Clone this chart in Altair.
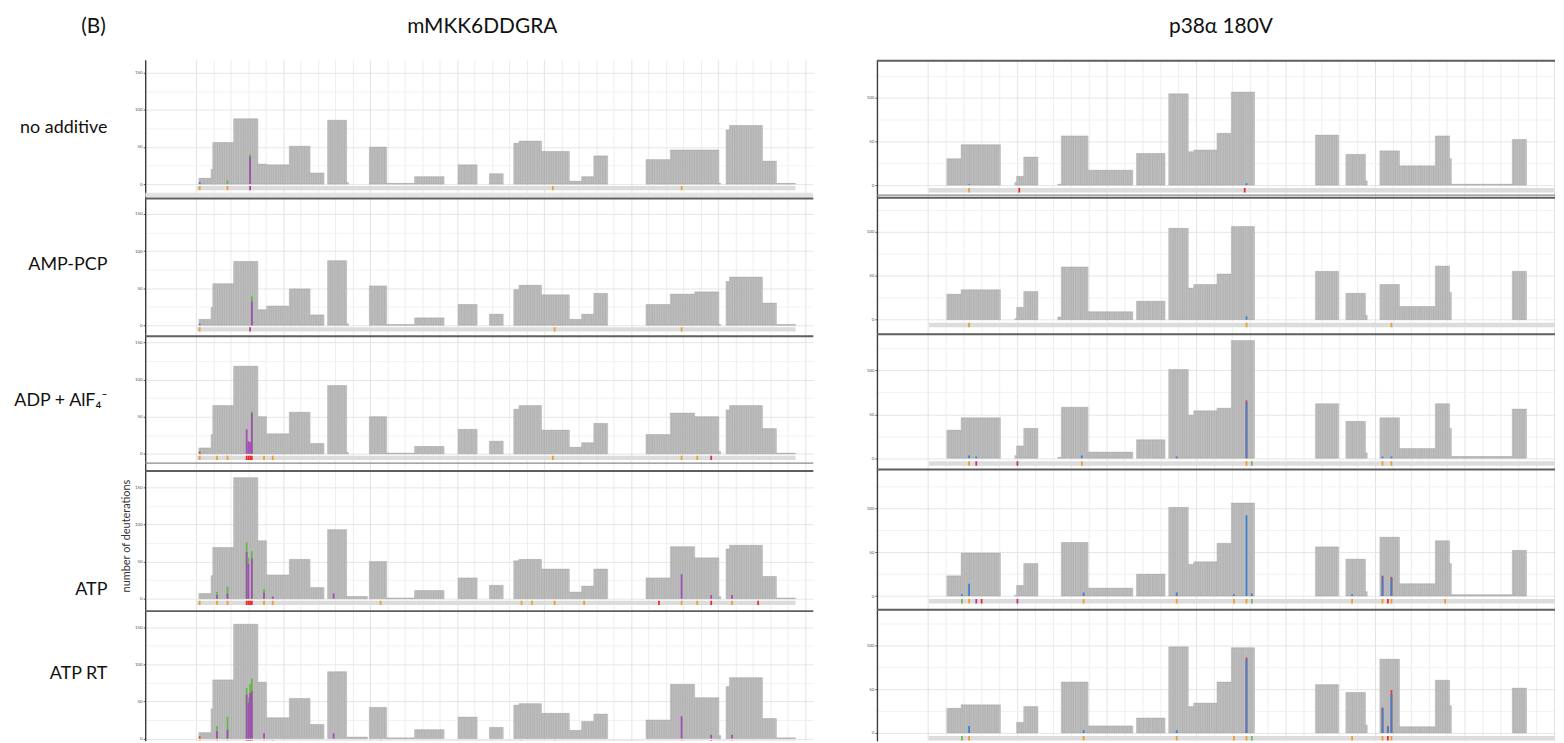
import altair as alt
import pandas as pd

# ---------------- text ----------------
PANEL_TAG = "(B)"
COL_TITLES = ["mMKK6DDGRA", "p38α 180V"]
ROW_LABELS = ["no additive", "AMP-PCP", "ADP + AlF₄⁻", "ATP", "ATP RT"]
Y_TITLE = "number of deuterations"

# ---------------- left protein (mMKK6DDGRA): coverage segments (residue ranges) ----------------
LEFT_SEG_START = [2, 9, 10, 22, 36, 41, 54, 66, 76, 87, 88, 100, 110, 126, 151, 169, 183, 186, 199, 215,
                  222, 229, 259, 273, 287, 301, 305, 307, 326, 334]
LEFT_SEG_END = [8, 9, 21, 35, 40, 53, 65, 73, 86, 87, 98, 109, 125, 142, 161, 176, 185, 198, 214, 221,
                228, 236, 272, 286, 300, 301, 306, 325, 333, 344]
L_NO_ADDITIVE = [8, 20, 56, 88, 27, 26, 51, 15, 86, 2, 0, 50, 1, 10, 26, 14, 55, 58, 44, 4,
                 10, 38, 33, 46, 46, 1, 73, 79, 31, 1]
L_AMP_PCP = [8, 24, 56, 86, 21, 26, 49, 14, 87, 2, 0, 53, 1, 10, 28, 15, 48, 54, 41, 8,
             15, 43, 28, 42, 45, 1, 59, 65, 30, 1]
L_ADP_ALF = [8, 26, 65, 118, 50, 27, 56, 14, 92, 2, 0, 50, 1, 10, 33, 17, 60, 65, 32, 9,
             15, 41, 26, 55, 50, 3, 59, 65, 34, 1]
L_ATP = [7, 31, 69, 163, 78, 32, 53, 15, 93, 3, 3, 50, 1, 11, 28, 18, 51, 53, 40, 9,
         17, 40, 28, 70, 55, 3, 67, 72, 30, 1]
L_ATP_RT = [8, 40, 79, 154, 76, 28, 54, 19, 90, 2, 2, 42, 1, 12, 29, 15, 45, 47, 34, 11,
            23, 33, 25, 73, 55, 4, 70, 82, 27, 1]
LEFT_SEQ_RANGE = [1, 344]

# ---------------- right protein (p38α 180V) ----------------
RIGHT_SEG_START = [11, 19, 49, 50, 54, 73, 75, 90, 117, 135, 146, 149, 162, 170, 217, 234, 245, 253,
                   264, 284, 292, 293, 327]
RIGHT_SEG_END = [18, 40, 49, 53, 61, 74, 89, 114, 132, 145, 148, 161, 169, 182, 229, 244, 245, 263,
                 283, 291, 292, 326, 334]
R_NO_ADDITIVE = [30, 46, 3, 10, 32, 1, 56, 17, 36, 104, 38, 40, 59, 106, 57, 35, 5, 39, 22, 56, 30, 1, 52]
R_AMP_PCP = [29, 34, 1, 14, 32, 3, 60, 9, 21, 104, 36, 40, 52, 106, 55, 30, 5, 40, 15, 61, 31, 0, 55]
R_ADP_ALF = [32, 46, 3, 14, 34, 1, 58, 7, 21, 101, 49, 54, 57, 134, 62, 42, 6, 46, 11, 62, 34, 2, 56]
R_ATP = [23, 49, 1, 12, 37, 0, 61, 9, 25, 101, 36, 39, 60, 106, 56, 42, 5, 67, 14, 63, 37, 1.5, 52]
R_ATP_RT = [28, 32, 0, 12, 30, 0, 58, 8, 17, 98, 30, 34, 58, 97, 55, 46, 9, 84, 7, 60, 31, 0, 51]
RIGHT_SEQ_RANGE = [1, 360]

# ---------------- coloured sub-populations (residue, count, class) ----------------
L_OVER = [
    [(2, 3, "blue"), (18, 5, "green"), (31, 40, "green"), (31, 37, "purple")],
    [(2, 2, "blue"), (32, 39, "green"), (32, 32, "purple")],
    [(2, 3, "red"), (29, 33, "purple"), (30, 17, "purple"), (31, 16, "purple"), (32, 57, "green"),
     (32, 55, "purple")],
    [(12, 9, "green"), (12, 5, "purple"), (18, 16, "green"), (18, 7, "purple"), (29, 76, "green"),
     (29, 63, "purple"), (30, 55, "green"), (30, 47, "purple"), (32, 64, "green"), (32, 54, "purple"),
     (39, 13, "green"), (39, 8, "purple"), (44, 3, "purple"), (79, 7, "purple"), (279, 33, "purple"),
     (296, 5, "purple"), (308, 5, "purple")],
    [(2, 3, "red"), (12, 17, "green"), (12, 10, "purple"), (18, 29, "green"), (18, 12, "purple"),
     (29, 68, "green"), (29, 59, "purple"), (30, 55, "green"), (30, 48, "purple"), (31, 73, "green"),
     (31, 61, "purple"), (32, 81, "green"), (32, 64, "purple"), (39, 7, "purple"), (79, 7, "purple"),
     (279, 30, "purple"), (296, 5, "purple"), (308, 5, "purple")],
]
R_OVER = [
    [(23, 1, "blue"), (178, 2, "blue")],
    [(178, 4, "blue")],
    [(23, 3, "blue"), (27, 2, "blue"), (86, 3, "blue"), (139, 2, "blue"), (178, 66, "red"),
     (178, 64, "blue"), (254, 2, "blue"), (259, 2, "blue")],
    [(19, 2, "blue"), (23, 14, "blue"), (87, 4, "blue"), (139, 4, "blue"), (171, 2, "blue"),
     (178, 92, "blue"), (181, 3, "blue"), (237, 2, "blue"), (254, 23, "red"), (254, 22, "blue"),
     (259, 22, "red"), (259, 20, "blue")],
    [(23, 8, "blue"), (87, 3, "blue"), (139, 3, "blue"), (178, 86, "red"), (178, 84, "blue"),
     (254, 29, "red"), (254, 28, "blue"), (257, 8, "red"), (257, 7, "blue"), (259, 49, "red"),
     (259, 44, "blue")],
]

# ---------------- highlighted residues in the sequence strip ----------------
L_HL = [
    [(2, "orange"), (18, "orange"), (31, "magenta"), (205, "orange"), (279, "orange")],
    [(2, "orange"), (31, "magenta"), (206, "orange"), (279, "orange")],
    [(2, "orange"), (12, "orange"), (18, "orange"), (29, "red"), (30, "red"), (31, "red"), (32, "red"),
     (39, "orange"), (44, "orange"), (205, "orange"), (279, "orange"), (288, "orange"), (296, "magenta")],
    [(2, "orange"), (12, "orange"), (18, "orange"), (29, "red"), (30, "red"), (31, "red"), (32, "red"),
     (39, "orange"), (44, "orange"), (106, "orange"), (187, "orange"), (193, "orange"), (206, "orange"),
     (223, "orange"), (266, "red"), (279, "orange"), (288, "orange"), (296, "red"), (308, "orange"),
     (323, "red")],
    [(2, "orange"), (12, "orange"), (18, "orange"), (29, "red"), (30, "red"), (31, "red"), (32, "red"),
     (39, "orange"), (44, "orange"), (106, "orange"), (187, "orange"), (206, "orange"), (279, "orange"),
     (296, "red"), (308, "orange")],
]
R_HL = [
    [(23, "orange"), (51, "red"), (177, "red")],
    [(23, "orange"), (178, "orange"), (259, "orange")],
    [(23, "orange"), (27, "magenta"), (50, "magenta"), (86, "orange"), (178, "orange"), (181, "green"),
     (254, "orange"), (259, "orange")],
    [(19, "green"), (23, "orange"), (27, "magenta"), (30, "red"), (50, "magenta"), (87, "orange"),
     (139, "orange"), (171, "orange"), (178, "orange"), (181, "green"), (237, "orange"), (254, "orange"),
     (257, "red"), (259, "orange"), (289, "orange")],
    [(19, "green"), (23, "orange"), (87, "orange"), (139, "orange"), (171, "orange"), (178, "orange"),
     (181, "green"), (237, "orange"), (254, "orange"), (257, "red"), (259, "orange")],
]

Y_TICKS = [0, 25, 50, 75, 100, 125, 150]
X_GRID = list(range(0, 351, 10))

# ---------------- styling / geometry (not data) ----------------
FONT = "Lato"
OVER_DOMAIN = ["purple", "green", "blue", "red"]
OVER_RANGE = ["#a24cb5", "#62b94a", "#3d7fd0", "#e8402f"]
HL_DOMAIN = ["orange", "red", "magenta", "green"]
HL_RANGE = ["#f39a2a", "#ea2b2b", "#c2308a", "#71b85a"]

LABEL_W, LEFT_W, RIGHT_W, GAP = 74, 672, 682, 64
LEFT_XDOM = [-29.3, 354.7]
RIGHT_XDOM = [-28.5, 350.4]
ROW_H = [138, 138, 136, 141, 132]
TITLE_H = 50
LEFT_YDOM = [[-17.4, 167.3], [-12.05, 172.7], [-21.0, 161.0], [-14.7, 174.0], [-3.1, 173.6]]
RIGHT_YDOM = [[-13.6, 142.7], [-16.6, 139.6], [-12.8, 141.2], [-15.5, 144.2], [-9.06, 140.4]]
LEFT_TOP_Y = [None, 1.5, 2, 1.5, 1.5]
RIGHT_TOP_Y = [1, 0.7, 0, 0, 0]
LEFT_BOTTOM_Y = [None, None, 129.7, None, None]
RIGHT_BOTTOM_Y = [136, None, None, None, None]
LEFT_STRIP = [-2.7, -8.4]
RIGHT_STRIP = [-3.4, -8.5]
LABEL_Y = [69, 68, 67, 121, 65]


def expand(starts, ends, values):
    rows = []
    for s, e, v in zip(starts, ends, values):
        if v <= 0:
            continue
        for r in range(s, e + 1):
            rows.append({"r0": r - 0.5, "r1": r + 0.5, "v": v})
    return pd.DataFrame(rows)


def over_df(items):
    return pd.DataFrame([{"r0": r - 0.5, "r1": r + 0.5, "v": v, "c": c} for r, v, c in items])


def hl_df(items, strip):
    return pd.DataFrame([{"r0": r - 0.5, "r1": r + 0.5, "y0": strip[0], "y1": strip[1], "c": c}
                         for r, c in items])


def hrule(width, y, color, sw):
    return alt.Chart(pd.DataFrame({"k": [0]})).mark_rule(color=color, strokeWidth=sw).encode(
        x=alt.value(0), x2=alt.value(width), y=alt.value(y))


def panel(bars, overs, hls, seq_range, strip, width, height, xdom, ydom, top_y, bottom_y=None,
          ylabels=(0, 50, 100, 150), grey_band=None):
    xs = alt.Scale(domain=xdom, nice=False, zero=False)
    ys = alt.Scale(domain=ydom, nice=False, zero=False)
    lab_test = " || ".join(f"datum.value === {v}" for v in ylabels)
    xaxis = alt.Axis(values=X_GRID, grid=True, labels=False, ticks=False, domain=False, title=None,
                     gridColor={"condition": {"test": "datum.value % 50 === 0", "value": "#dcdcdc"},
                                "value": "#e9e9e9"}, gridWidth=0.8)
    yaxis = alt.Axis(values=[t for t in Y_TICKS if ydom[0] <= t <= ydom[1]], grid=True, title=None,
                     labelExpr=f"({lab_test}) ? datum.label : ''",
                     labelFontSize=4.5, labelColor="#555", labelPadding=1, labelFont=FONT,
                     tickSize=2, tickWidth=0.8,
                     tickColor={"condition": {"test": lab_test, "value": "#333"}, "value": "transparent"},
                     domainColor="#3a3a3a", domainWidth=1.4,
                     gridColor={"condition": {"test": "datum.value % 50 === 0", "value": "#e0e0e0"},
                                "value": "#efefef"}, gridWidth=0.8)

    def X(f):
        return alt.X(f, scale=xs, axis=xaxis)

    def Y(f):
        return alt.Y(f, scale=ys, axis=yaxis)

    layers = []
    layers.append(alt.Chart(bars).mark_rect(fill="#c3c3c3", stroke="#8d8d8d", strokeWidth=0.3).encode(
        x=X("r0:Q"), x2="r1:Q", y=Y("v:Q"), y2=alt.datum(0)))
    seq = pd.DataFrame({"r0": [seq_range[0] - 0.5], "r1": [seq_range[1] + 0.5],
                        "y0": [strip[0]], "y1": [strip[1]]})
    layers.append(alt.Chart(seq).mark_rect(fill="#dcdcdc", clip=True).encode(
        x=X("r0:Q"), x2="r1:Q", y=Y("y0:Q"), y2="y1:Q"))
    if grey_band is not None:
        gb = pd.DataFrame({"y0": [grey_band[0]], "y1": [grey_band[1]]})
        layers.append(alt.Chart(gb).mark_rect(fill="#e2e2e2", clip=True).encode(
            x=alt.value(0), x2=alt.value(width), y=Y("y0:Q"), y2="y1:Q"))
    layers.append(alt.Chart(hls).mark_rect(clip=True).encode(
        x=X("r0:Q"), x2="r1:Q", y=Y("y0:Q"), y2="y1:Q",
        color=alt.Color("c:N", scale=alt.Scale(domain=HL_DOMAIN, range=HL_RANGE), legend=None)))
    layers.append(alt.Chart(overs).mark_rect(clip=True).encode(
        x=X("r0:Q"), x2="r1:Q", y=Y("v:Q"), y2=alt.datum(0),
        fill=alt.Fill("c:N", scale=alt.Scale(domain=OVER_DOMAIN, range=OVER_RANGE), legend=None)))
    if bottom_y is not None:
        layers.append(hrule(width, bottom_y, "#8a8a8a", 1.2))
    if top_y is not None:
        layers.append(hrule(width, top_y, "#5e5e5e", 2))
    return alt.layer(*layers).resolve_scale(color="independent", fill="independent").properties(
        width=width, height=height)


def text_view(text, width, height, x, y, size=21, align="center"):
    return alt.Chart(pd.DataFrame({"t": [text]})).mark_text(
        font=FONT, fontSize=size, align=align, baseline="middle", color="#111").encode(
        text="t:N", x=alt.value(x), y=alt.value(y)).properties(width=width, height=height)


left_vals = [L_NO_ADDITIVE, L_AMP_PCP, L_ADP_ALF, L_ATP, L_ATP_RT]
right_vals = [R_NO_ADDITIVE, R_AMP_PCP, R_ADP_ALF, R_ATP, R_ATP_RT]

cells = [
    text_view(PANEL_TAG, LABEL_W, TITLE_H, 86, 17),
    text_view(COL_TITLES[0], LEFT_W, TITLE_H, 339, 17),
    text_view(COL_TITLES[1], RIGHT_W, TITLE_H, 346, 17),
]
for i in range(5):
    lab = text_view(ROW_LABELS[i], LABEL_W, ROW_H[i], 100, LABEL_Y[i], size=18, align="right")
    if i == 3:
        yt = alt.Chart(pd.DataFrame({"t": [Y_TITLE]})).mark_text(
            font=FONT, fontSize=11, angle=270, align="center", baseline="middle", color="#333").encode(
            text="t:N", x=alt.value(120), y=alt.value(67))
        lab = alt.layer(lab, yt).properties(width=LABEL_W, height=ROW_H[i])
    cells.append(lab)
    cells.append(panel(
        expand(LEFT_SEG_START, LEFT_SEG_END, left_vals[i]), over_df(L_OVER[i]), hl_df(L_HL[i], LEFT_STRIP),
        LEFT_SEQ_RANGE, LEFT_STRIP, LEFT_W, ROW_H[i], LEFT_XDOM, LEFT_YDOM[i], LEFT_TOP_Y[i],
        bottom_y=LEFT_BOTTOM_Y[i], grey_band=([-11.6, -17.4] if i == 0 else None)))
    cells.append(panel(
        expand(RIGHT_SEG_START, RIGHT_SEG_END, right_vals[i]), over_df(R_OVER[i]), hl_df(R_HL[i], RIGHT_STRIP),
        RIGHT_SEQ_RANGE, RIGHT_STRIP, RIGHT_W, ROW_H[i], RIGHT_XDOM, RIGHT_YDOM[i], RIGHT_TOP_Y[i],
        bottom_y=RIGHT_BOTTOM_Y[i], ylabels=(0, 50, 100)))

chart = alt.concat(*cells, columns=3, spacing={"row": 0, "column": GAP}, bounds="flush").properties(
    padding={"left": 0, "top": 0, "right": 0, "bottom": 0}, background="white"
).configure_view(stroke=None)

chart.save("out.html", embed_options={"renderer": "svg", "actions": False})
